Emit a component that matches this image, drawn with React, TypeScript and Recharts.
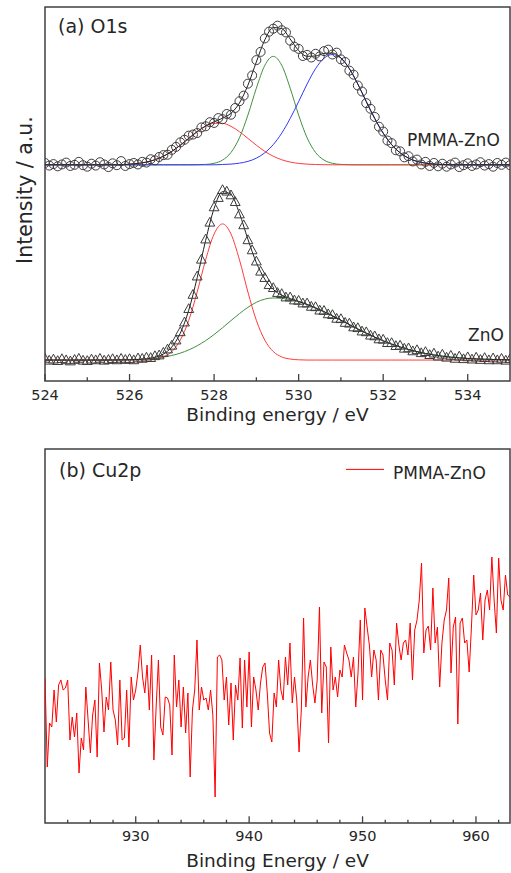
import React from 'react';
import { ComposedChart, Line, Scatter, XAxis, YAxis, ReferenceArea, Legend } from 'recharts';

const FONT = '"DejaVu Sans", Verdana, sans-serif';
const FRAME = '#404040';
const INK = '#262626';
const FIT_RED = '#ff3b3b';
const FIT_GREEN = '#3f913f';
const FIT_BLUE = '#3535ff';
const ENVELOPE = '#1e1e1e';
const MARKER = '#3c3c3c';
const CU_RED = '#ff0000';

// ---------- (a) O1s : fitted components on a 0.2 eV grid ----------
const o1sGridEnergy = [
  524.0, 524.2, 524.4, 524.6, 524.8, 525.0, 525.2, 525.4, 525.6, 525.8,
  526.0, 526.2, 526.4, 526.6, 526.8, 527.0, 527.2, 527.4, 527.6, 527.8,
  528.0, 528.2, 528.4, 528.6, 528.8, 529.0, 529.2, 529.4, 529.6, 529.8,
  530.0, 530.2, 530.4, 530.6, 530.8, 531.0, 531.2, 531.4, 531.6, 531.8,
  532.0, 532.2, 532.4, 532.6, 532.8, 533.0, 533.2, 533.4, 533.6, 533.8,
  534.0, 534.2, 534.4, 534.6, 534.8, 535.0,
];

const pmmaRedFit = [
  57.8, 57.8, 57.8, 57.8, 57.8, 57.8, 57.8, 57.8, 57.8, 57.8,
  57.98, 58.18, 58.54, 59.16, 60.09, 61.4, 63.04, 64.87, 66.66, 68.09,
  68.9, 68.9, 68.09, 66.66, 64.87, 63.04, 61.4, 60.09, 59.16, 58.54,
  58.18, 57.98, 57.88, 57.83, 57.8, 57.8, 57.8, 57.8, 57.8, 57.8,
  57.8, 57.8, 57.8, 57.8, 57.8, 57.8, 57.8, 57.8, 57.8, 57.8,
  57.8, 57.8, 57.8, 57.8, 57.8, 57.8,
];

const pmmaGreenFit = [
  57.8, 57.8, 57.8, 57.8, 57.8, 57.8, 57.8, 57.8, 57.8, 57.8,
  57.8, 57.8, 57.8, 57.8, 57.8, 57.8, 57.8, 57.8, 57.83, 57.91,
  58.21, 59.07, 61.11, 65.03, 71.1, 78.3, 84.4, 86.8, 84.4, 78.3,
  71.1, 65.03, 61.11, 59.07, 58.21, 57.91, 57.83, 57.8, 57.8, 57.8,
  57.8, 57.8, 57.8, 57.8, 57.8, 57.8, 57.8, 57.8, 57.8, 57.8,
  57.8, 57.8, 57.8, 57.8, 57.8, 57.8,
];

const pmmaBlueFit = [
  57.8, 57.8, 57.8, 57.8, 57.8, 57.8, 57.8, 57.8, 57.8, 57.8,
  57.8, 57.8, 57.8, 57.8, 57.8, 57.8, 57.8, 57.8, 57.8, 57.8,
  57.8, 57.89, 58.0, 58.25, 58.72, 59.58, 61.02, 63.21, 66.28, 70.2,
  74.7, 79.4, 83.5, 86.3, 87.3, 86.3, 83.5, 79.4, 74.7, 70.2,
  66.28, 63.21, 61.02, 59.58, 58.72, 58.25, 58.0, 57.89, 57.8, 57.8,
  57.8, 57.8, 57.8, 57.8, 57.8, 57.8,
];

const pmmaEnvelope = [
  57.8, 57.8, 57.8, 57.8, 57.8, 57.8, 57.8, 57.8, 57.8, 57.8,
  57.98, 58.18, 58.54, 59.16, 60.09, 61.4, 63.04, 64.87, 66.69, 68.2,
  69.31, 70.26, 71.6, 74.34, 79.09, 85.32, 91.22, 94.5, 94.24, 91.44,
  88.38, 86.81, 86.89, 87.6, 87.71, 86.41, 83.53, 79.4, 74.7, 70.2,
  66.28, 63.21, 61.02, 59.58, 58.72, 58.25, 58.0, 57.89, 57.8, 57.8,
  57.8, 57.8, 57.8, 57.8, 57.8, 57.8,
];

const znoRedFit = [
  5.6, 5.6, 5.6, 5.6, 5.6, 5.6, 5.6, 5.6, 5.6, 5.6,
  5.6, 5.6, 5.67, 5.87, 6.44, 7.88, 10.92, 16.2, 23.8, 32.4,
  39.3, 42.0, 39.3, 32.4, 23.8, 16.2, 10.92, 7.88, 6.44, 5.87,
  5.67, 5.6, 5.6, 5.6, 5.6, 5.6, 5.6, 5.6, 5.6, 5.6,
  5.6, 5.6, 5.6, 5.6, 5.6, 5.6, 5.6, 5.6, 5.6, 5.6,
  5.6, 5.6, 5.6, 5.6, 5.6, 5.6,
];

const znoGreenFit = [
  5.6, 5.6, 5.6, 5.6, 5.6, 5.6, 5.6, 5.6, 5.62, 5.65,
  5.69, 5.76, 5.88, 6.07, 6.37, 6.82, 7.45, 8.31, 9.42, 10.8,
  12.42, 14.24, 16.15, 18.02, 19.7, 21.04, 21.9, 22.2, 22.09, 21.75,
  21.2, 20.46, 19.56, 18.54, 17.43, 16.26, 15.08, 13.91, 12.79, 11.73,
  10.75, 9.88, 9.1, 8.42, 7.85, 7.36, 6.96, 6.64, 6.38, 6.18,
  6.03, 5.91, 5.82, 5.75, 5.71, 5.67,
];

const znoEnvelope = [
  5.6, 5.6, 5.6, 5.6, 5.6, 5.6, 5.6, 5.6, 5.62, 5.65,
  5.69, 5.76, 5.95, 6.34, 7.21, 9.1, 12.77, 18.91, 27.62, 37.6,
  46.12, 50.64, 49.85, 44.82, 37.9, 31.64, 27.22, 24.48, 22.93, 22.02,
  21.27, 20.46, 19.56, 18.54, 17.43, 16.26, 15.08, 13.91, 12.79, 11.73,
  10.75, 9.88, 9.1, 8.42, 7.85, 7.36, 6.96, 6.64, 6.38, 6.18,
  6.03, 5.91, 5.82, 5.75, 5.71, 5.67,
];

// ---------- (a) O1s : measured points, 0.1 eV step ----------
const o1sDataEnergy = [
  524.0, 524.1, 524.2, 524.3, 524.4, 524.5, 524.6, 524.7, 524.8, 524.9,
  525.0, 525.1, 525.2, 525.3, 525.4, 525.5, 525.6, 525.7, 525.8, 525.9,
  526.0, 526.1, 526.2, 526.3, 526.4, 526.5, 526.6, 526.7, 526.8, 526.9,
  527.0, 527.1, 527.2, 527.3, 527.4, 527.5, 527.6, 527.7, 527.8, 527.9,
  528.0, 528.1, 528.2, 528.3, 528.4, 528.5, 528.6, 528.7, 528.8, 528.9,
  529.0, 529.1, 529.2, 529.3, 529.4, 529.5, 529.6, 529.7, 529.8, 529.9,
  530.0, 530.1, 530.2, 530.3, 530.4, 530.5, 530.6, 530.7, 530.8, 530.9,
  531.0, 531.1, 531.2, 531.3, 531.4, 531.5, 531.6, 531.7, 531.8, 531.9,
  532.0, 532.1, 532.2, 532.3, 532.4, 532.5, 532.6, 532.7, 532.8, 532.9,
  533.0, 533.1, 533.2, 533.3, 533.4, 533.5, 533.6, 533.7, 533.8, 533.9,
  534.0, 534.1, 534.2, 534.3, 534.4, 534.5, 534.6, 534.7, 534.8, 534.9,
  535.0,
];

const pmmaCounts = [
  58.3, 57.6, 58.0, 57.4, 57.9, 58.4, 57.5, 57.8, 58.6, 57.7,
  57.3, 58.1, 57.6, 58.5, 57.9, 57.2, 58.2, 57.7, 58.8, 57.5,
  58.0, 58.3, 57.9, 58.6, 58.4, 59.3, 59.0, 59.9, 60.4, 60.5,
  61.8, 62.6, 63.8, 64.5, 65.6, 65.9, 66.3, 67.8, 68.1, 69.2,
  69.0, 70.3, 70.0, 71.4, 71.2, 73.0, 74.8, 76.3, 79.5, 81.7,
  85.8, 88.0, 91.6, 93.4, 94.2, 95.0, 93.8, 93.2, 91.0, 89.4,
  88.8, 86.9, 87.2, 86.5, 87.5, 86.8, 88.2, 88.6, 87.3, 87.8,
  86.0, 85.3, 83.0, 81.9, 79.0, 77.4, 74.3, 72.8, 70.6, 68.0,
  66.7, 64.3, 63.6, 61.7, 61.4, 59.8, 60.1, 58.7, 59.2, 57.9,
  58.6, 57.5, 58.3, 57.4, 58.1, 57.3, 57.9, 58.4, 57.2, 57.7,
  58.2, 57.5, 57.9, 58.5, 57.6, 58.0, 57.3, 58.3, 57.8, 58.4,
  57.7,
];

const znoCounts = [
  5.9, 5.4, 5.7, 5.3, 5.8, 5.5, 5.2, 5.6, 5.9, 5.4,
  5.3, 5.7, 5.5, 5.9, 5.4, 5.6, 5.8, 5.5, 5.9, 5.6,
  5.8, 5.5, 6.0, 5.9, 6.2, 6.1, 6.6, 6.8, 7.5, 8.4,
  9.4, 10.8, 13.0, 15.6, 19.2, 23.0, 27.9, 32.4, 37.8, 42.3,
  46.4, 48.9, 51.0, 50.6, 49.6, 47.8, 44.5, 41.6, 37.6, 34.9,
  31.9, 29.2, 27.5, 25.6, 24.8, 23.5, 23.2, 22.3, 22.3, 21.5,
  21.4, 20.7, 20.7, 19.8, 19.7, 18.8, 18.7, 17.8, 17.6, 16.6,
  16.5, 15.5, 15.3, 14.3, 14.1, 13.2, 13.0, 12.1, 11.9, 11.1,
  11.0, 10.1, 10.1, 9.3, 9.4, 8.6, 8.7, 7.9, 8.2, 7.4,
  7.7, 6.9, 7.3, 6.5, 7.0, 6.2, 6.7, 5.9, 6.5, 5.8,
  6.3, 5.7, 6.2, 5.6, 6.1, 5.5, 6.0, 5.5, 5.9, 5.4,
  5.8,
];

const o1sTicks = [524, 525, 526, 527, 528, 529, 530, 531, 532, 533, 534];

// ---------- (b) Cu2p ----------
const cu2pEnergy = [
  922.0, 922.2, 922.4, 922.6, 922.8, 923.0, 923.2, 923.4, 923.6, 923.8,
  924.0, 924.2, 924.4, 924.6, 924.8, 925.0, 925.2, 925.4, 925.6, 925.8,
  926.0, 926.2, 926.4, 926.6, 926.8, 927.0, 927.2, 927.4, 927.6, 927.8,
  928.0, 928.2, 928.4, 928.6, 928.8, 929.0, 929.2, 929.4, 929.6, 929.8,
  930.0, 930.2, 930.4, 930.6, 930.8, 931.0, 931.2, 931.4, 931.6, 931.8,
  932.0, 932.2, 932.4, 932.6, 932.8, 933.0, 933.2, 933.4, 933.6, 933.8,
  934.0, 934.2, 934.4, 934.6, 934.8, 935.0, 935.2, 935.4, 935.6, 935.8,
  936.0, 936.2, 936.4, 936.6, 936.8, 937.0, 937.2, 937.4, 937.6, 937.8,
  938.0, 938.2, 938.4, 938.6, 938.8, 939.0, 939.2, 939.4, 939.6, 939.8,
  940.0, 940.2, 940.4, 940.6, 940.8, 941.0, 941.2, 941.4, 941.6, 941.8,
  942.0, 942.2, 942.4, 942.6, 942.8, 943.0, 943.2, 943.4, 943.6, 943.8,
  944.0, 944.2, 944.4, 944.6, 944.8, 945.0, 945.2, 945.4, 945.6, 945.8,
  946.0, 946.2, 946.4, 946.6, 946.8, 947.0, 947.2, 947.4, 947.6, 947.8,
  948.0, 948.2, 948.4, 948.6, 948.8, 949.0, 949.2, 949.4, 949.6, 949.8,
  950.0, 950.2, 950.4, 950.6, 950.8, 951.0, 951.2, 951.4, 951.6, 951.8,
  952.0, 952.2, 952.4, 952.6, 952.8, 953.0, 953.2, 953.4, 953.6, 953.8,
  954.0, 954.2, 954.4, 954.6, 954.8, 955.0, 955.2, 955.4, 955.6, 955.8,
  956.0, 956.2, 956.4, 956.6, 956.8, 957.0, 957.2, 957.4, 957.6, 957.8,
  958.0, 958.2, 958.4, 958.6, 958.8, 959.0, 959.2, 959.4, 959.6, 959.8,
  960.0, 960.2, 960.4, 960.6, 960.8, 961.0, 961.2, 961.4, 961.6, 961.8,
  962.0, 962.2, 962.4, 962.6, 962.8, 963.0,
];

const cu2pCounts = [
  145, 56, 100, 96, 133, 101, 138, 143, 133, 135,
  143, 83, 106, 86, 110, 50, 85, 73, 136, 103,
  70, 108, 123, 66, 160, 133, 91, 126, 113, 161,
  113, 103, 78, 143, 83, 85, 133, 76, 146, 123,
  133, 151, 178, 146, 130, 158, 113, 168, 63, 116,
  163, 96, 88, 126, 125, 118, 68, 168, 116, 143,
  96, 136, 90, 130, 46, 113, 133, 183, 113, 136,
  123, 125, 113, 133, 108, 26, 166, 168, 163, 123,
  146, 98, 140, 83, 138, 123, 165, 95, 163, 116,
  171, 96, 146, 133, 113, 140, 156, 160, 130, 90,
  81, 130, 116, 163, 133, 123, 166, 138, 180, 120,
  146, 123, 71, 113, 205, 116, 146, 163, 138, 120,
  143, 216, 110, 161, 156, 80, 176, 133, 146, 126,
  153, 146, 178, 170, 163, 146, 166, 116, 150, 203,
  123, 215, 196, 178, 146, 173, 163, 123, 173, 168,
  143, 123, 180, 173, 138, 200, 178, 163, 180, 183,
  168, 200, 143, 193, 203, 223, 260, 170, 193, 197,
  173, 235, 180, 196, 136, 180, 203, 213, 245, 150,
  196, 206, 99, 200, 205, 180, 183, 151, 196, 248,
  208, 213, 230, 183, 223, 233, 213, 266, 223, 190,
  265, 223, 213, 248, 228, 226,
];

const cu2pTicks = [
  924, 926, 928, 930, 932, 934, 936, 938, 940, 942,
  944, 946, 948, 950, 952, 954, 956, 958, 960, 962,
];

const toPoints = (xs: number[], ys: number[]) => xs.map((x, i) => ({ x, y: ys[i] }));

const pmmaRedPts = toPoints(o1sGridEnergy, pmmaRedFit);
const pmmaGreenPts = toPoints(o1sGridEnergy, pmmaGreenFit);
const pmmaBluePts = toPoints(o1sGridEnergy, pmmaBlueFit);
const pmmaEnvPts = toPoints(o1sGridEnergy, pmmaEnvelope);
const znoRedPts = toPoints(o1sGridEnergy, znoRedFit);
const znoGreenPts = toPoints(o1sGridEnergy, znoGreenFit);
const znoEnvPts = toPoints(o1sGridEnergy, znoEnvelope);
const pmmaPts = toPoints(o1sDataEnergy, pmmaCounts);
const znoPts = toPoints(o1sDataEnergy, znoCounts);
const cu2pPts = toPoints(cu2pEnergy, cu2pCounts);

// ---------- renderers ----------
const o1sTick = (props: any) => {
  const { x, y, payload } = props;
  const v = Number(payload.value);
  const major = v % 2 === 0;
  return (
    <g>
      <line x1={x} x2={x} y1={y} y2={y - (major ? 7 : 3.7)} stroke={FRAME} strokeWidth={1.3} />
      {major ? (
        <text x={x} y={y + 18.5} textAnchor="middle" fontSize={14.5} fontFamily={FONT} fill={INK}>
          {v}
        </text>
      ) : null}
    </g>
  );
};

const cu2pTick = (props: any) => {
  const { x, y, payload } = props;
  const v = Number(payload.value);
  const major = v % 10 === 0;
  return (
    <g>
      <line x1={x} x2={x} y1={y} y2={y - (major ? 6.7 : 3.3)} stroke={FRAME} strokeWidth={1.3} />
      {major ? (
        <text x={x} y={y + 17.7} textAnchor="middle" fontSize={14.5} fontFamily={FONT} fill={INK}>
          {v}
        </text>
      ) : null}
    </g>
  );
};

const xTitle = (text: string, dy: number) => (props: any) => {
  const vb = props && props.viewBox ? props.viewBox : { x: 45, y: 381, width: 465 };
  return (
    <text x={vb.x + vb.width / 2} y={vb.y + dy} textAnchor="middle" fontSize={18.5} fontFamily={FONT} fill={INK}>
      {text}
    </text>
  );
};

const yTitle = (props: any) => {
  const vb = props && props.viewBox ? props.viewBox : { x: 44, y: 7, width: 1, height: 374 };
  const cx = vb.x + vb.width - 13.5;
  const cy = vb.y + 183;
  return (
    <text x={cx} y={cy} transform={`rotate(-90 ${cx} ${cy})`} textAnchor="middle" fontSize={20.5} fontFamily={FONT} fill={INK}>
      Intensity / a.u.
    </text>
  );
};

const circleShape = (props: any) => (
  <circle cx={props.cx} cy={props.cy} r={4.5} fill="none" stroke={MARKER} strokeWidth={1} />
);

const triangleShape = (props: any) => {
  const { cx, cy } = props;
  return (
    <polygon
      points={`${cx},${cy - 5.5} ${cx - 4.9},${cy + 3.3} ${cx + 4.9},${cy + 3.3}`}
      fill="none"
      stroke={MARKER}
      strokeWidth={1}
    />
  );
};

const cu2pLegend = () => (
  <div style={{ position: 'relative', width: 160, height: 20, fontFamily: FONT }}>
    <svg width={40} height={20} style={{ position: 'absolute', left: 0, top: 0 }}>
      <line x1={0} x2={38} y1={4.4} y2={4.4} stroke={CU_RED} strokeWidth={1} />
    </svg>
    <span style={{ position: 'absolute', left: 47, top: 0, fontSize: 17, lineHeight: '17px', color: INK, whiteSpace: 'nowrap' }}>
      PMMA-ZnO
    </span>
  </div>
);

const note = (text: string, left: number, top: number, size: number) => (
  <span
    style={{
      position: 'absolute',
      left,
      top,
      fontSize: size,
      lineHeight: `${size}px`,
      fontFamily: FONT,
      color: INK,
      whiteSpace: 'nowrap',
    }}
  >
    {text}
  </span>
);

export default function App() {
  return (
    <div style={{ position: 'absolute', left: 0, top: 0, width: 511, height: 873, background: '#fff', fontFamily: FONT }}>
      <div style={{ position: 'absolute', left: 0, top: 0 }}>
        <ComposedChart width={511} height={430} margin={{ top: 7, right: 1, bottom: 19, left: 44 }}>
          <XAxis
            dataKey="x"
            type="number"
            domain={[524, 535]}
            ticks={o1sTicks}
            interval={0}
            allowDataOverflow
            axisLine={false}
            tickLine={false}
            tickSize={0}
            tickMargin={0}
            height={30}
            tick={o1sTick}
            label={xTitle('Binding energy / eV', 39.7)}
          />
          <YAxis
            dataKey="y"
            type="number"
            domain={[0, 100]}
            width={1}
            tick={false}
            axisLine={false}
            tickLine={false}
            allowDataOverflow
            label={yTitle}
          />
          <ReferenceArea x1={524} x2={535} y1={0} y2={100} fill="none" stroke={FRAME} strokeWidth={1.5} ifOverflow="visible" />
          <Line data={znoGreenPts} dataKey="y" type="monotone" stroke={FIT_GREEN} strokeWidth={1} dot={false} isAnimationActive={false} />
          <Line data={znoRedPts} dataKey="y" type="monotone" stroke={FIT_RED} strokeWidth={1} dot={false} isAnimationActive={false} />
          <Line data={pmmaGreenPts} dataKey="y" type="monotone" stroke={FIT_GREEN} strokeWidth={1} dot={false} isAnimationActive={false} />
          <Line data={pmmaRedPts} dataKey="y" type="monotone" stroke={FIT_RED} strokeWidth={1} dot={false} isAnimationActive={false} />
          <Line data={pmmaBluePts} dataKey="y" type="monotone" stroke={FIT_BLUE} strokeWidth={1} dot={false} isAnimationActive={false} />
          <Line data={znoEnvPts} dataKey="y" type="monotone" stroke={ENVELOPE} strokeWidth={1} dot={false} isAnimationActive={false} />
          <Line data={pmmaEnvPts} dataKey="y" type="monotone" stroke={ENVELOPE} strokeWidth={1} dot={false} isAnimationActive={false} />
          <Scatter data={znoPts} dataKey="y" shape={triangleShape} isAnimationActive={false} />
          <Scatter data={pmmaPts} dataKey="y" shape={circleShape} isAnimationActive={false} />
        </ComposedChart>
      </div>
      <div style={{ position: 'absolute', left: 0, top: 430 }}>
        <ComposedChart width={511} height={443} margin={{ top: 19, right: 1, bottom: 20, left: 44 }}>
          <XAxis
            dataKey="x"
            type="number"
            domain={[922, 963]}
            ticks={cu2pTicks}
            interval={0}
            allowDataOverflow
            axisLine={false}
            tickLine={false}
            tickSize={0}
            tickMargin={0}
            height={30}
            tick={cu2pTick}
            label={xTitle('Binding Energy / eV', 43.5)}
          />
          <YAxis
            dataKey="y"
            type="number"
            domain={[0, 374]}
            width={1}
            tick={false}
            axisLine={false}
            tickLine={false}
            allowDataOverflow
          />
          <ReferenceArea x1={922} x2={963} y1={0} y2={374} fill="none" stroke={FRAME} strokeWidth={1.5} ifOverflow="visible" />
          <Line
            data={cu2pPts}
            dataKey="y"
            name="PMMA-ZnO"
            type="linear"
            stroke={CU_RED}
            strokeWidth={1}
            dot={false}
            isAnimationActive={false}
          />
          <Legend
            layout="horizontal"
            align="center"
            verticalAlign="middle"
            wrapperStyle={{ top: 34.9, left: 346, width: 160, height: 20 }}
            content={cu2pLegend}
          />
        </ComposedChart>
      </div>
      {note('(a) O1s', 58, 17.2, 19)}
      {note('PMMA-ZnO', 407, 132.3, 17)}
      {note('ZnO', 468, 327.3, 17)}
      {note('(b) Cu2p', 59, 460.6, 19)}
    </div>
  );
}
